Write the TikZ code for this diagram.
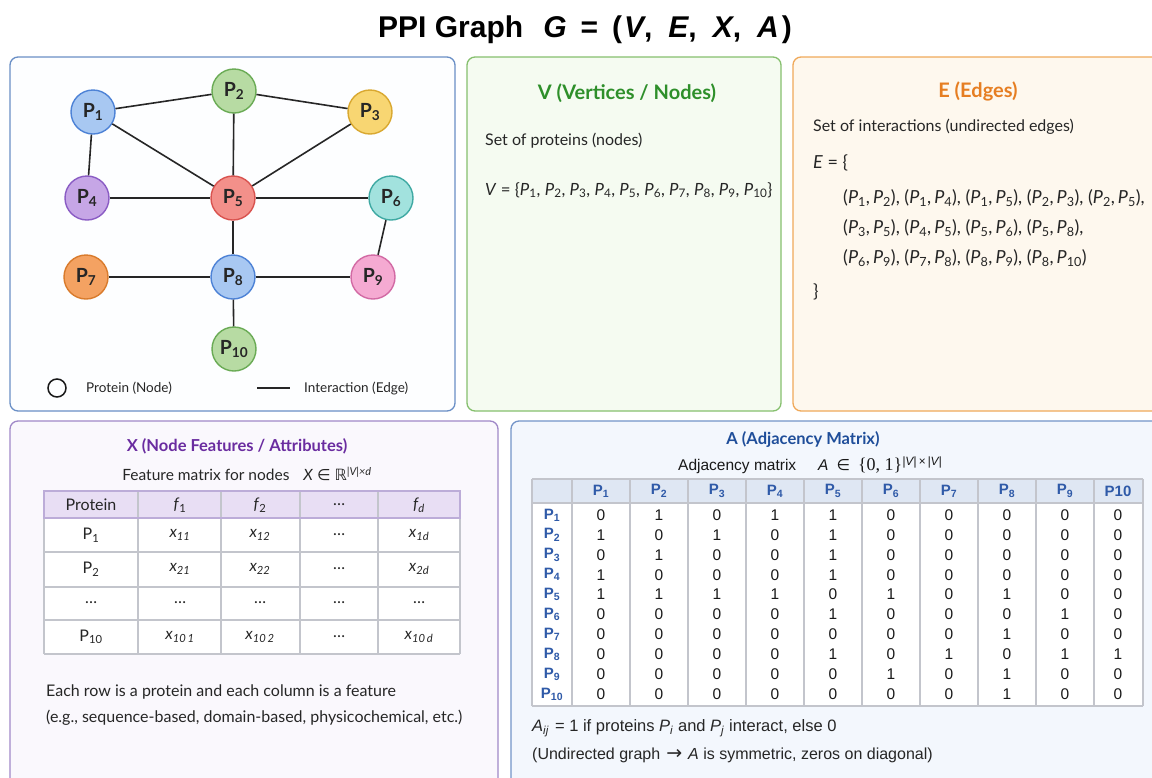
\documentclass[tikz,border=0pt]{standalone}
\usepackage{fontspec}
\setmainfont{Lato}
\newfontfamily\arialfont{Liberation Sans}
\newfontfamily\symfont{DejaVu Sans}
\newfontfamily\seriffont{Liberation Serif}
\usetikzlibrary{positioning}
\tikzset{>=latex}
% panel colours
\definecolor{gbord}{HTML}{6A8FC6}
\definecolor{gfill}{HTML}{FDFEFF}
\definecolor{vbord}{HTML}{86C06E}
\definecolor{vfill}{HTML}{F5FBF1}
\definecolor{ebord}{HTML}{F0A95A}
\definecolor{efill}{HTML}{FEF8EE}
\definecolor{xbord}{HTML}{A088C8}
\definecolor{xfill}{HTML}{FAF8FD}
\definecolor{abord}{HTML}{7394C8}
\definecolor{afill}{HTML}{F3F7FD}
\definecolor{vtitle}{HTML}{2E8F2A}
\definecolor{etitle}{HTML}{E67E22}
\definecolor{xtitle}{HTML}{6A2CA0}
\definecolor{atitle}{HTML}{1F4E9A}
\definecolor{ablue}{HTML}{2F5AA8}
\definecolor{xhead}{HTML}{E8DEF4}
\definecolor{ahead}{HTML}{DFE7F3}
\definecolor{gridc}{HTML}{C3C5CC}
% protein colours
\definecolor{pblue}{HTML}{A8C8F2}   \definecolor{pblueD}{HTML}{4D82D6}
\definecolor{pgreen}{HTML}{B7DBA3}  \definecolor{pgreenD}{HTML}{6AAB55}
\definecolor{pyellow}{HTML}{F8D672} \definecolor{pyellowD}{HTML}{D9A830}
\definecolor{ppurple}{HTML}{C6A6E6} \definecolor{ppurpleD}{HTML}{8A5CC4}
\definecolor{pred}{HTML}{F3908A}    \definecolor{predD}{HTML}{D9534F}
\definecolor{pcyan}{HTML}{A2E2DE}   \definecolor{pcyanD}{HTML}{3FA9A3}
\definecolor{porange}{HTML}{F4A262} \definecolor{porangeD}{HTML}{D97B2C}
\definecolor{ppink}{HTML}{F5AAD2}   \definecolor{ppinkD}{HTML}{D26AA4}
\newcommand\fsz[1]{\fontsize{#1}{#1}\selectfont}
\newcommand\ip[1]{\textit{P}\textsubscript{#1}}
\tikzstyle{ppiedge}=[line width=1.6pt,black!85]
\tikzstyle{gridline}=[gridc,line width=1.1pt]
\tikzset{
  panel/.style 2 args={draw=#1,fill=#2,line width=1.3pt,rounded corners=8pt},
  prot/.style={circle,draw=#1D,fill=#1,line width=1.4pt,minimum size=44pt,inner sep=0pt,
    font=\bfseries\fsz{19.5},text=black!85},
  ptitle/.style={font=\bfseries\fsz{20},inner sep=0pt},
  body/.style={font=\fsz{16},text=black!85,anchor=west,inner sep=0pt},
  xcell/.style={font=\fsz{16},text=black!85,inner sep=0pt},
  acell/.style={font=\arialfont\fsz{15.5},text=black!90,inner sep=0pt},
  ahdr/.style={font=\arialfont\bfseries\fsz{15},text=ablue,inner sep=0pt},
}

\begin{document}
\begin{tikzpicture}[x=1pt,y=-1pt]
  \clip (0,0) rectangle (1152,777);
  \fill[white] (0,0) rectangle (1152,777);

  \node[font=\arialfont\bfseries\fsz{30},anchor=base,inner sep=0pt] (title) at (585,37)
    {PPI Graph\hspace{20pt}\textit{G}\hspace{14pt}=\hspace{14pt}(\hspace{2pt}\textit{V},\hspace{16pt}\textit{E},\hspace{16pt}\textit{X},\hspace{16pt}\textit{A}\hspace{3pt})};

  % panels
  \draw[panel={gbord}{gfill}] (10,57) rectangle (455,411);
  \draw[panel={vbord}{vfill}] (467,57) rectangle (781,411);
  \draw[panel={ebord}{efill}] (793,57) rectangle (1170,411);
  \draw[panel={xbord}{xfill}] (10,421) rectangle (498,795);
  \draw[panel={abord}{afill}] (511,421) rectangle (1170,795);

  % graph
  \foreach \n/\x/\y/\c in {1/93/112/pblue, 2/234/91/pgreen, 3/370/112/pyellow,
      4/87/198/ppurple, 5/233/198/pred, 6/391/198/pcyan, 7/86/277/porange,
      8/233/277/pblue, 9/373/277/ppink, 10/234/349/pgreen}
    \node[prot=\c] (p\n) at (\x,\y) {P\textsubscript{\n}};
  \foreach \a/\b in {1/2,1/4,1/5,2/3,2/5,3/5,4/5,5/6,5/8,6/9,7/8,8/9,8/10}
    \draw[ppiedge] (p\a) -- (p\b);

  % legend
  \node[circle,draw=black!90,line width=1.5pt,minimum size=18pt,inner sep=0pt] (lgnode) at (57,388) {};
  \node[body,font=\fsz{13.5}] (lgtxt1) at (86,388) {Protein (Node)};
  \coordinate (lga) at (257,388);
  \coordinate (lgb) at (290,388);
  \draw[ppiedge] (lga) -- (lgb);
  \node[body,font=\fsz{13.5}] (lgtxt2) at (304,388) {Interaction (Edge)};

  % V
  \node[ptitle,text=vtitle] (vtitle) at (627,93) {V (Vertices / Nodes)};
  \node[body] (vdesc) at (485,141) {Set of proteins (nodes)};
  \node[body,font=\fsz{16.8}] (vset) at (485,190)
    {\textit{V} = \{\ip{1}, \ip{2}, \ip{3}, \ip{4}, \ip{5}, \ip{6}, \ip{7}, \ip{8}, \ip{9}, \ip{10}\}};

  % E
  \node[ptitle,text=etitle] (etitle) at (978,91) {E (Edges)};
  \node[body] (edesc) at (813,127) {Set of interactions (undirected edges)};
  \node[body,font=\fsz{18}] (eopen) at (813,163) {\textit{E} = \{};
  \node[body,font=\fsz{18}] (erow1) at (843,198)
    {(\ip{1},\,\ip{2}), (\ip{1},\,\ip{4}), (\ip{1},\,\ip{5}), (\ip{2},\,\ip{3}), (\ip{2},\,\ip{5}),};
  \node[body,font=\fsz{18}] (erow2) at (843,228)
    {(\ip{3},\,\ip{5}), (\ip{4},\,\ip{5}), (\ip{5},\,\ip{6}), (\ip{5},\,\ip{8}),};
  \node[body,font=\fsz{18}] (erow3) at (843,258)
    {(\ip{6},\,\ip{9}), (\ip{7},\,\ip{8}), (\ip{8},\,\ip{9}), (\ip{8},\,\ip{10})};
  \node[body,font=\fsz{18}] (eclose) at (813,292) {\}};

  % X
  \node[ptitle,font=\bfseries\fsz{16.5},text=xtitle] (xtitle) at (237,446) {X (Node Features / Attributes)};
  \node[font=\fsz{15.5},text=black!85,inner sep=0pt] (xdesc) at (247,474)
    {Feature matrix for nodes\hspace{14pt}\textit{X}\hspace{4pt}{\symfont ∈}\hspace{4pt}{\symfont ℝ}\textsuperscript{\textit{|V|×d}}};
  \fill[white] (44,518) rectangle (460,654);
  \fill[xhead] (44,491) rectangle (460,518);
  \foreach \y in {491,518,552,587,620,654} \draw[gridline] (44,\y) -- (460,\y);
  \foreach \x in {44,138,221,300,378,460} \draw[gridline] (\x,491) -- (\x,654);
  \draw[xbord!70,line width=1.1pt] (44,491) rectangle (460,518);
  \foreach \cx/\t [count=\j] in {91/Protein, 180/{\textit{f}\textsubscript{1}}, 260/{\textit{f}\textsubscript{2}},
      339/{\dots}, 419/{\textit{f\textsubscript{d}}}}
    \node[xcell] (xh\j) at (\cx,505) {\t};
  \foreach \cx/\t [count=\j] in {91/{P\textsubscript{1}}, 180/{\textit{x\textsubscript{11}}},
      260/{\textit{x\textsubscript{12}}}, 339/{\dots}, 419/{\textit{x\textsubscript{1d}}}}
    \node[xcell] (xa\j) at (\cx,535) {\t};
  \foreach \cx/\t [count=\j] in {91/{P\textsubscript{2}}, 180/{\textit{x\textsubscript{21}}},
      260/{\textit{x\textsubscript{22}}}, 339/{\dots}, 419/{\textit{x\textsubscript{2d}}}}
    \node[xcell] (xb\j) at (\cx,569) {\t};
  \foreach \cx [count=\j] in {91,180,260,339,419}
    \node[xcell] (xc\j) at (\cx,603) {\dots};
  \foreach \cx/\t [count=\j] in {91/{P\textsubscript{10}}, 180/{\textit{x\textsubscript{10\,1}}},
      260/{\textit{x\textsubscript{10\,2}}}, 339/{\dots}, 419/{\textit{x\textsubscript{10\,d}}}}
    \node[xcell] (xd\j) at (\cx,637) {\t};
  \node[body] (xnote1) at (46,692) {Each row is a protein and each column is a feature};
  \node[body] (xnote2) at (46,718) {(e.g., sequence-based, domain-based, physicochemical, etc.)};

  % A
  \node[ptitle,font=\bfseries\fsz{16.5},text=atitle] (atitle) at (803,440) {A (Adjacency Matrix)};
  \node[font=\arialfont\fsz{15.5},text=black!90,inner sep=0pt,anchor=west] (adesc) at (678,465)
    {Adjacency matrix\hspace{22pt}\textit{A}\hspace{8pt}{\symfont ∈}\hspace{8pt}{\seriffont\fsz{18}\{0, 1\}}\textsuperscript{\fsz{12}\textit{|V|\,×\,|V|}}};
  \fill[white] (532,479) rectangle (1143,706);
  \fill[ahead] (532,479) rectangle (1143,503);
  \foreach \y in {479,503,706} \draw[gridline] (532,\y) -- (1143,\y);
  \foreach \k in {0,...,9} \draw[gridline] ({572+58*\k},479) -- ({572+58*\k},706);
  \draw[gridline] (532,479) -- (532,706);
  \draw[gridline] (1143,479) -- (1143,706);
  \foreach \j in {1,...,9}
    \node[ahdr] (ah\j) at ({601+58*(\j-1)},491) {P\textsubscript{\j}};
  \node[ahdr] (ah10) at (1118,491) {P10};
  \foreach \row [count=\i] in {{0,1,0,1,1,0,0,0,0,0},{1,0,1,0,1,0,0,0,0,0},{0,1,0,0,1,0,0,0,0,0},
      {1,0,0,0,1,0,0,0,0,0},{1,1,1,1,0,1,0,1,0,0},{0,0,0,0,1,0,0,0,1,0},{0,0,0,0,0,0,0,1,0,0},
      {0,0,0,0,1,0,1,0,1,1},{0,0,0,0,0,1,0,1,0,0},{0,0,0,0,0,0,0,1,0,0}}{
    \node[ahdr] (ar\i) at (552,{515+19.9*(\i-1)}) {P\textsubscript{\i}};
    \foreach \v [count=\j] in \row {
      \pgfmathsetmacro\cx{(\j<10) ? (601+58*(\j-1)) : 1118}
      \node[acell] (a\i-\j) at (\cx,{515+19.9*(\i-1)}) {\v};
    }
  }
  \node[body,font=\arialfont\fsz{16.5}] (anote1) at (532,728)
    {\textit{A}\textsubscript{\textit{ij}}\hspace{6pt}= 1 if proteins \textit{P}\textsubscript{\textit{i}} and \textit{P}\textsubscript{\textit{j}}\ interact, else 0};
  \node[body,font=\arialfont\fsz{16}] (anote2) at (532,755)
    {(Undirected graph\hspace{6pt}{\symfont\fsz{19}→}\hspace{6pt}\textit{A} is symmetric, zeros on diagonal)};
\end{tikzpicture}
\end{document}
